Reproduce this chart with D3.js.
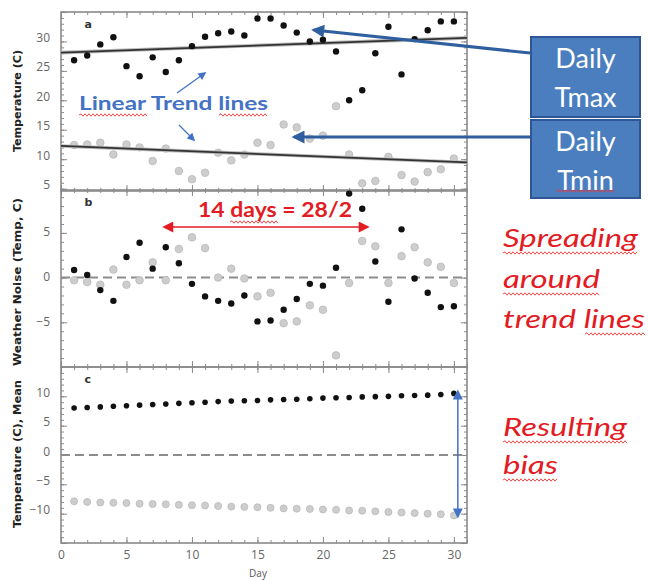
<!DOCTYPE html>
<html><head><meta charset="utf-8">
<script src="https://cdn.jsdelivr.net/npm/d3@7"></script>
<style>body{margin:0;background:#fff}svg{display:block}</style>
</head><body>
<svg id="c" width="648" height="580"></svg>
<script>
// ---------- data ----------
const days = [1,2,3,4,5,6,7,8,9,10,11,12,13,14,15,16,17,18,19,20,21,22,23,24,25,26,27,28,29,30];
const tmax = [26.8,27.6,29.5,30.7,25.8,24.1,27.3,24.8,26.8,29.2,30.8,31.4,31.7,31.0,33.9,33.9,32.7,31.5,30.0,30.3,28.3,20.0,21.7,28.0,32.5,24.4,30.4,31.9,33.4,33.4];
const tmin = [12.4,12.5,12.8,10.8,12.5,12.0,9.7,11.8,8.0,6.6,7.7,11.1,9.8,10.8,12.8,12.4,15.9,15.4,13.5,14.0,19.0,10.8,5.9,6.3,10.4,7.3,6.2,7.8,8.3,10.1];
const trendDays = [0,31];
const trendMax = [28.1,30.6];
const trendMin = [12.25,9.45];
const noiseMax = [0.85,0.3,-1.4,-2.6,2.3,3.9,1.0,3.4,1.6,-0.7,-2.1,-2.6,-2.9,-2.0,-4.9,-4.8,-3.6,-2.4,-0.7,-0.9,1.1,9.4,7.7,1.8,-2.7,5.4,-0.1,-1.7,-3.3,-3.2];
const noiseMin = [-0.3,-0.5,-0.8,0.9,-0.8,-0.3,1.7,-0.3,3.2,4.5,3.3,0.0,1.0,-0.1,-2.1,-1.7,-5.1,-4.9,-3.1,-3.6,-8.7,-0.6,4.1,3.5,-0.6,2.4,3.4,1.7,1.2,-0.6];
const meanMax = [8.0,8.1,8.2,8.3,8.4,8.5,8.6,8.7,8.8,8.9,9.0,9.1,9.2,9.25,9.3,9.4,9.45,9.5,9.6,9.7,9.75,9.8,9.9,9.95,10.0,10.1,10.15,10.2,10.3,10.5];
const meanMin = [-7.9,-8.0,-8.1,-8.15,-8.2,-8.3,-8.35,-8.4,-8.5,-8.55,-8.6,-8.7,-8.8,-8.85,-8.9,-9.0,-9.1,-9.15,-9.2,-9.3,-9.35,-9.45,-9.5,-9.6,-9.7,-9.8,-9.9,-10.0,-10.1,-10.3];
const xTicks = [0,5,10,15,20,25,30];
const aTicks = [5,10,15,20,25,30];
const bTicks = [-5,0,5];
const cTicks = [-10,-5,0,5,10];
const panelTitles = ["Temperature (C)","Weather Noise (Temp, C)","Temperature (C), Mean"];
const panelLetters = ["a","b","c"];

// ---------- layout ----------
const svg = d3.select("#c");
const L = 61, R = 467;
const x = d3.scaleLinear().domain([0,31]).range([L,R]);
const panels = [
  {top:12, bot:191, dom:[4.6,35], ticks:aTicks, labDy:-4, titleLen:102, titleY:101},
  {top:190, bot:367, dom:[-10,9.8], ticks:bTicks, labDy:-1, titleLen:168, titleY:282},
  {top:367, bot:543, dom:[-15,15], ticks:cTicks, labDy:-4, titleLen:148, titleY:454}
];
panels.forEach(p => { p.y = d3.scaleLinear().domain(p.dom).range([p.bot,p.top]); });

const frameCol = "#8a8a8a", tickLblCol = "#666";
const minorX = d3.range(0,32,1), majorX = xTicks;

panels.forEach((p,i) => {
  const g = svg.append("g");
  const y = p.y;
  const [d0,d1] = p.dom;
  const minorY = d3.range(Math.ceil(d0), Math.floor(d1)+1, 1);
  const majorY = minorY.filter(v => v % 5 === 0);
  const ax = (axis, tr) => {
    const a = g.append("g").attr("transform", tr).call(axis);
    a.select(".domain").remove();
    a.selectAll("line").attr("stroke", frameCol).attr("stroke-width", 1);
    return a;
  };
  // inward ticks on all sides
  ax(d3.axisBottom(x).tickValues(minorX).tickSize(-3).tickFormat(""), `translate(0,${p.bot})`);
  ax(d3.axisBottom(x).tickValues(majorX).tickSize(-6).tickFormat(""), `translate(0,${p.bot})`);
  ax(d3.axisTop(x).tickValues(minorX).tickSize(-3).tickFormat(""), `translate(0,${p.top})`);
  ax(d3.axisTop(x).tickValues(majorX).tickSize(-6).tickFormat(""), `translate(0,${p.top})`);
  ax(d3.axisLeft(y).tickValues(minorY).tickSize(-3).tickFormat(""), `translate(${L},0)`);
  ax(d3.axisLeft(y).tickValues(majorY).tickSize(-6).tickFormat(""), `translate(${L},0)`);
  ax(d3.axisRight(y).tickValues(minorY).tickSize(-3).tickFormat(""), `translate(${R},0)`);
  ax(d3.axisRight(y).tickValues(majorY).tickSize(-6).tickFormat(""), `translate(${R},0)`);
  // frame
  g.append("rect").attr("x",L).attr("y",p.top).attr("width",R-L).attr("height",p.bot-p.top)
    .attr("fill","none").attr("stroke",frameCol).attr("stroke-width",1.6);
  // tick labels
  const lab = g.append("g").attr("transform",`translate(${L},0)`)
    .call(d3.axisLeft(y).tickValues(p.ticks).tickSize(0).tickPadding(11)
      .tickFormat(v => v < 0 ? "\u2212"+Math.abs(v) : v));
  lab.select(".domain").remove();
  lab.selectAll("text").attr("font-family","Open Sans, sans-serif").attr("font-size",12)
    .attr("fill",tickLblCol).attr("dy", (p.labDy+4)+"px");
  // title
  svg.append("text").attr("transform",`translate(21,${p.titleY}) rotate(-90)`)
    .attr("text-anchor","middle").attr("font-family","DejaVu Sans Condensed, DejaVu Sans, sans-serif")
    .attr("font-weight","bold").attr("font-size",10).attr("fill","#222")
    .attr("textLength",p.titleLen).attr("lengthAdjust","spacingAndGlyphs")
    .text(panelTitles[i]);
  // panel letter
  svg.append("text").attr("x",x(1.8)).attr("y",p.top+16).attr("font-family","DejaVu Sans, sans-serif")
    .attr("font-weight","bold").attr("font-size",11).attr("fill","#333").text(panelLetters[i]);
});

// x tick labels on bottom panel
const xl = svg.append("g").attr("transform",`translate(0,${panels[2].bot})`)
  .call(d3.axisBottom(x).tickValues(xTicks).tickSize(0).tickPadding(7));
xl.select(".domain").remove();
xl.selectAll("text").attr("font-family","Open Sans, sans-serif").attr("font-size",12).attr("fill",tickLblCol);
svg.append("text").attr("x",258).attr("y",577).attr("text-anchor","middle")
  .attr("font-family","Open Sans, sans-serif").attr("font-size",10).attr("fill","#555").text("Day");

const gray = "#cdcdcd", grayStroke = "#b9b9b9", black = "#111";
function dots(vals, y, r, fill, stroke){
  svg.append("g").selectAll("circle").data(vals).join("circle")
    .attr("cx",(d,i)=>x(days[i])).attr("cy",d=>y(d)).attr("r",r)
    .attr("fill",fill).attr("stroke",stroke||"none").attr("stroke-width",0.8);
}

// panel a
const ya = panels[0].y;
dots(tmin, ya, 3.8, gray, grayStroke);
const line = d3.line().x((d,i)=>x(trendDays[i])).y(d=>ya(d));
[trendMax, trendMin].forEach(t => {
  svg.append("path").datum(t).attr("d",line).attr("fill","none").attr("stroke","#bbb").attr("stroke-width",3.6);
  svg.append("path").datum(t).attr("d",line).attr("fill","none").attr("stroke","#333").attr("stroke-width",1.8);
});
dots(tmax, ya, 3.2, black);

// panel b
const yb = panels[1].y;
svg.append("line").attr("x1",L).attr("x2",R).attr("y1",yb(0)).attr("y2",yb(0))
  .attr("stroke","#8c8c8c").attr("stroke-width",2).attr("stroke-dasharray","9,5");
dots(noiseMin, yb, 3.8, gray, grayStroke);
dots(noiseMax, yb, 3.2, black);

// panel c
const yc = panels[2].y;
svg.append("line").attr("x1",L).attr("x2",R).attr("y1",yc(0)).attr("y2",yc(0))
  .attr("stroke","#8c8c8c").attr("stroke-width",2).attr("stroke-dasharray","9,5");
dots(meanMin, yc, 3.5, gray, grayStroke);
dots(meanMax, yc, 2.8, black);

// ---------- annotations ----------
const defs = svg.append("defs");
function marker(id, col, w, h){
  defs.append("marker").attr("id",id).attr("viewBox","0 0 10 10").attr("refX",8).attr("refY",5)
    .attr("markerWidth",w).attr("markerHeight",h).attr("orient","auto-start-reverse")
    .attr("markerUnits","userSpaceOnUse")
    .append("path").attr("d","M0,0 L10,5 L0,10 z").attr("fill",col);
}
marker("mBig","#2f5f9e",16,13);
marker("mSmall","#4472c4",9,8);
marker("mRed","#e31b23",14,11);
marker("mBlue","#4472c4",11,10);

function wavy(x0, x1, yv){
  let d = `M${x0},${yv}`; let up = true;
  for (let xx = x0+2; xx <= x1; xx += 2){ d += ` L${xx},${yv + (up?-1.2:1.2)}`; up = !up; }
  svg.append("path").attr("d",d).attr("fill","none").attr("stroke","#e33").attr("stroke-width",0.9);
}

// Linear Trend lines
svg.append("text").attr("x",79).attr("y",110).attr("font-family","Lato, sans-serif").attr("font-weight","bold")
  .attr("font-size",19).attr("fill","#4472c4").attr("textLength",189).attr("lengthAdjust","spacingAndGlyphs")
  .text("Linear Trend lines");
wavy(79,148,115); wavy(219,268,115);
svg.append("line").attr("x1",177).attr("y1",93).attr("x2",205).attr("y2",73)
  .attr("stroke","#4472c4").attr("stroke-width",1.3).attr("marker-end","url(#mSmall)");
svg.append("line").attr("x1",179).attr("y1",125).attr("x2",194).attr("y2",140)
  .attr("stroke","#4472c4").attr("stroke-width",1.3).attr("marker-end","url(#mSmall)");

// boxes
const boxes = [{t1:"Daily",t2:"Tmax",y0:37,y1:117},{t1:"Daily",t2:"Tmin",y0:120,y1:198}];
boxes.forEach((b,i) => {
  svg.append("rect").attr("x",531).attr("y",b.y0).attr("width",109).attr("height",b.y1-b.y0)
    .attr("fill","#4a7ebf").attr("stroke","#2f5597").attr("stroke-width",2);
  svg.append("text").attr("x",585.5).attr("y",b.y0+31).attr("text-anchor","middle")
    .attr("font-family","Lato, sans-serif").attr("font-size",27).attr("fill","#fff").text(b.t1);
  svg.append("text").attr("x",585.5).attr("y",b.y0+70).attr("text-anchor","middle")
    .attr("font-family","Lato, sans-serif").attr("font-size",27).attr("fill","#fff").text(b.t2);
});
wavy(556,615,191);
svg.append("line").attr("x1",530).attr("y1",53).attr("x2",x(19.3)).attr("y2",30)
  .attr("stroke","#2f5f9e").attr("stroke-width",3).attr("marker-end","url(#mBig)");
svg.append("line").attr("x1",530).attr("y1",137).attr("x2",x(17.8)).attr("y2",137)
  .attr("stroke","#2f5f9e").attr("stroke-width",3).attr("marker-end","url(#mBig)");

// 14 days
svg.append("text").attr("x",198).attr("y",217).attr("font-family","Lato, sans-serif").attr("font-weight","bold")
  .attr("font-size",21).attr("fill","#e31b23").attr("textLength",154).attr("lengthAdjust","spacingAndGlyphs")
  .text("14 days = 28/2");
wavy(230,278,222);
svg.append("line").attr("x1",x(7.9)).attr("y1",227).attr("x2",x(23.4)).attr("y2",227)
  .attr("stroke","#e31b23").attr("stroke-width",1.6)
  .attr("marker-start","url(#mRed)").attr("marker-end","url(#mRed)");

// right side texts
const redTexts = [
  {t:"Spreading", y:247, w:135, u:[503,638]},
  {t:"around", y:288, w:97, u:[503,600]},
  {t:"trend lines", y:328, w:142, u:[585,645]},
  {t:"Resulting", y:436, w:124, u:[503,627]},
  {t:"bias", y:474, w:55, u:[503,558]}
];
redTexts.forEach(r => {
  svg.append("text").attr("x",503).attr("y",r.y).attr("font-family","Lato, sans-serif").attr("font-style","italic")
    .attr("font-size",25).attr("fill","#e31b23").attr("textLength",r.w).attr("lengthAdjust","spacingAndGlyphs").text(r.t);
  wavy(r.u[0], r.u[1], r.y+6);
});

// blue double arrow (bias)
svg.append("line").attr("x1",x(30.3)).attr("y1",yc(meanMax[29])-2).attr("x2",x(30.3)).attr("y2",yc(meanMin[29])+1)
  .attr("stroke","#4472c4").attr("stroke-width",1.5)
  .attr("marker-start","url(#mBlue)").attr("marker-end","url(#mBlue)");
</script>
</body></html>
